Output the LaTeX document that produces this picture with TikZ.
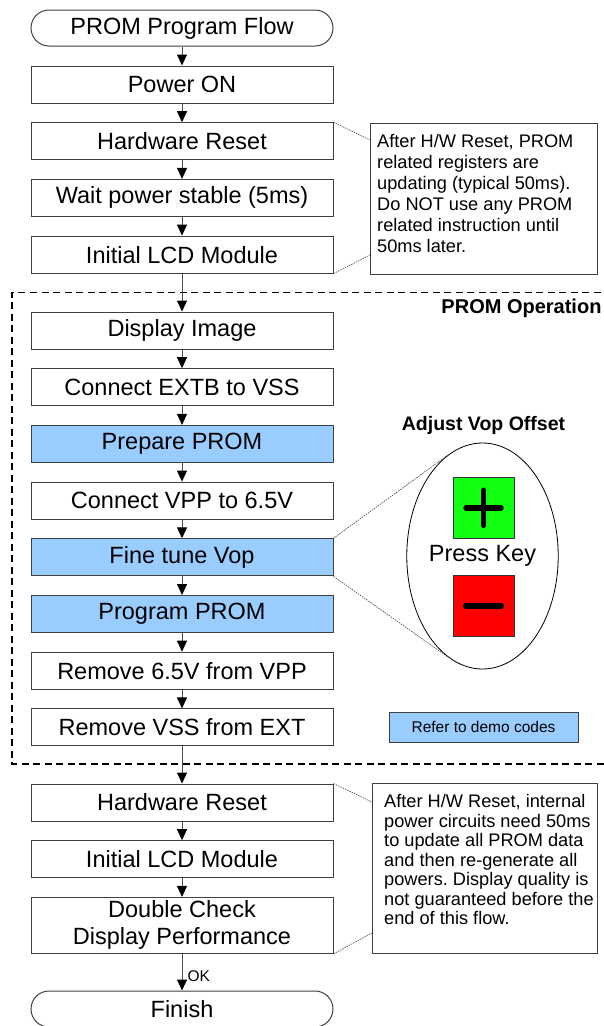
\documentclass[tikz,border=0pt]{standalone}
\usepackage{fontspec}
\setmainfont{Liberation Sans}
\usetikzlibrary{arrows.meta,shapes.geometric}
\definecolor{promblue}{HTML}{99CCFF}
\definecolor{keygreen}{HTML}{11FF11}
\definecolor{keyred}{HTML}{FF0000}
\definecolor{edgegray}{HTML}{404040}
\frenchspacing
\begin{document}
\begin{tikzpicture}[x=1pt,y=-1pt,
  stepbox/.style={draw=edgegray, line width=1pt, fill=white, minimum width=302pt, minimum height=37pt, inner sep=0pt, font=\fontsize{23.5}{27}\selectfont, align=center},
  bluebox/.style={stepbox, fill=promblue},
  term/.style={stepbox, minimum height=36pt, rounded corners=18pt},
  flow/.style={draw=black!70, line width=1pt, -{Triangle[length=11pt,width=10pt,color=black]}},
  callout/.style={draw=black!75, line width=0.6pt, dash pattern=on 1.5pt off 1pt},
  notebox/.style={draw=edgegray, line width=1pt, anchor=north west, inner sep=0pt},
  notetext/.style={anchor=north west, align=left, inner sep=0pt},
  keybox/.style={draw=black!80, line width=0.8pt, minimum width=61pt, minimum height=61pt, inner sep=0pt},
  keysym/.style={draw=black, line cap=round},
  groupline/.style={draw=black, line width=1.6pt, dash pattern=on 7pt off 4.5pt}
]
\useasboundingbox (0,0) rectangle (604,1026);

% group frame
\draw[groupline] (612,292.5) -- (12,292.5) -- (12,764) -- (612,764);
\node[font=\bfseries\fontsize{20}{24}\selectfont] (grp) at (521.5,308) {PROM Operation};

% main flow
\node[term] (title) at (182,28) {PROM Program Flow};
\node[stepbox] (pon) at (182,84.5) {Power ON};
\node[stepbox] (hw1) at (182,141.2) {Hardware Reset};
\node[stepbox] (wait) at (182,197.9) {Wait power stable (5ms)};
\node[stepbox] (lcd1) at (182,254.6) {Initial LCD Module};
\node[stepbox] (disp) at (182,330.5) {Display Image};
\node[stepbox] (extb) at (182,387.2) {Connect EXTB to VSS};
\node[bluebox] (prep) at (182,443.9) {Prepare PROM};
\node[stepbox] (vpp) at (182,500.6) {Connect VPP to 6.5V};
\node[bluebox] (fine) at (182,557.3) {Fine tune Vop};
\node[bluebox] (prog) at (182,614) {Program PROM};
\node[stepbox] (rmv) at (182,670.7) {Remove 6.5V from VPP};
\node[stepbox] (rmx) at (182,727.4) {Remove VSS from EXT};
\node[stepbox] (hw2) at (182,802.5) {Hardware Reset};
\node[stepbox] (lcd2) at (182,859.2) {Initial LCD Module};
\node[stepbox, minimum height=56pt] (dbl) at (182,925.4) {Double Check\\Display Performance};
\node[term] (fin) at (182,1009) {Finish};

\foreach \a/\b in {title/pon,pon/hw1,hw1/wait,wait/lcd1,lcd1/disp,disp/extb,extb/prep,prep/vpp,vpp/fine,fine/prog,prog/rmv,rmv/rmx,rmx/hw2,hw2/lcd2,lcd2/dbl}
  \draw[flow] (\a) -- (\b);
\draw[flow] (dbl) -- node[pos=0.6, right, inner sep=5pt, font=\fontsize{15.5}{18}\selectfont] (ok) {OK} (fin);

% notes
\node[notebox, minimum width=227pt, minimum height=151pt] (note1) at (370,123) {};
\node[notetext, font=\fontsize{18.2}{21}\selectfont] (note1txt) at (377,134.5)
 {After H/W Reset, PROM\\related registers are\\updating (typical 50ms).\\Do NOT use any PROM\\related instruction until\\50ms later.};
\coordinate (n1a) at (370,140);
\coordinate (n1b) at (370,255);
\draw[callout] (hw1.north east) -- (n1a);
\draw[callout] (lcd1.south east) -- (n1b);

\node[notebox, minimum width=225pt, minimum height=170pt] (note2) at (372,783) {};
\node[notetext, font=\fontsize{18.2}{19.45}\selectfont] (note2txt) at (384,794.5)
 {After H/W Reset, internal\\power circuits need 50ms\\to update all PROM data\\and then re-generate all\\powers. Display quality is\\not guaranteed before the\\end of this flow.};
\coordinate (n2a) at (372,802);
\coordinate (n2b) at (372,933);
\draw[callout] (hw2.north east) -- (n2a);
\draw[callout] (dbl.south east) -- (n2b);

% key panel
\node[font=\bfseries\fontsize{19.5}{23}\selectfont] (adj) at (483.5,425) {Adjust Vop Offset};
\node[ellipse, draw=black, line width=0.8pt, minimum width=151pt, minimum height=226pt, inner sep=0pt, font=\fontsize{23.5}{27}\selectfont] (keyell) at (482.5,556) {Press Key};
\node[keybox, fill=keygreen] (plus) at (483.5,507.8) {};
\node[keybox, fill=keyred] (minus) at (483.5,606) {};
\draw[keysym, line width=5.5pt] ([xshift=-17.5pt]plus.center) -- ([xshift=17.5pt]plus.center);
\draw[keysym, line width=5.5pt] ([yshift=17.5pt]plus.center) -- ([yshift=-17.5pt]plus.center);
\draw[keysym, line width=6pt] ([xshift=-17.5pt]minus.center) -- ([xshift=17.5pt]minus.center);
\draw[callout] (fine.north east) -- (keyell.109);
\draw[callout] (fine.south east) -- (keyell.251);

\node[draw=edgegray, line width=1pt, fill=promblue, minimum width=189pt, minimum height=30pt, inner sep=0pt, font=\fontsize{15.5}{18}\selectfont] (demo) at (483.5,727) {Refer to demo codes};
\end{tikzpicture}
\end{document}
